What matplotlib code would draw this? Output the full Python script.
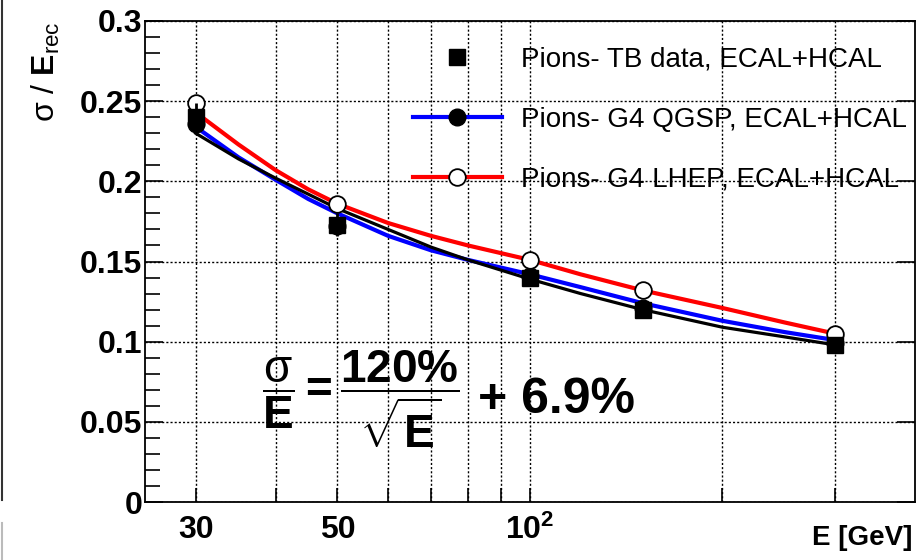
import matplotlib.pyplot as plt
from matplotlib.lines import Line2D
from matplotlib.ticker import FixedLocator, NullFormatter

plt.rcParams['font.family'] = 'Liberation Sans'
plt.rcParams['mathtext.fontset'] = 'custom'
plt.rcParams['mathtext.rm'] = 'Liberation Sans'
plt.rcParams['mathtext.bf'] = 'Liberation Sans:bold'
plt.rcParams['mathtext.it'] = 'Liberation Sans:italic'

# Beam energies (GeV)
energy = [30, 50, 100, 150, 300]

# Measured / simulated resolution at each energy
tb_data = [0.240, 0.173, 0.140, 0.120, 0.098]
tb_err = [0.009, 0.007, 0.005, 0.005, 0.005]
qgsp = [0.236, 0.172, 0.141, 0.121, 0.099]
lhep = [0.249, 0.186, 0.151, 0.132, 0.105]

# Fitted curves
curve_e = [30, 35, 40, 45, 50, 60, 70, 80, 100, 120, 150, 200, 250, 300]
fit_tb = [0.230, 0.214, 0.202, 0.192, 0.183, 0.170, 0.159, 0.151, 0.139, 0.130, 0.120, 0.109, 0.103, 0.098]
fit_qgsp = [0.234, 0.215, 0.201, 0.189, 0.180, 0.166, 0.157, 0.151, 0.142, 0.134, 0.124, 0.113, 0.106, 0.101]
fit_lhep = [0.243, 0.223, 0.207, 0.195, 0.186, 0.174, 0.166, 0.160, 0.151, 0.142, 0.132, 0.121, 0.112, 0.105]

fig = plt.figure(figsize=(9.21, 5.60), dpi=100)
ax = fig.add_axes([145 / 921, 58 / 560, 770 / 921, 481 / 560])

ax.plot(curve_e, fit_qgsp, color='#0000ff', lw=3, zorder=3)
ax.plot(curve_e, fit_lhep, color='#ff0000', lw=3, zorder=3)
ax.plot(curve_e, fit_tb, color='black', lw=2.3, zorder=4)

ax.plot(energy, qgsp, 'o', color='black', ms=12, zorder=5)
ax.plot(energy, lhep, 'o', mfc='white', mec='black', mew=1.3, ms=12, zorder=6)
ax.errorbar(energy, tb_data, yerr=tb_err, fmt='s', color='black', ms=12,
            elinewidth=2, capsize=0, zorder=7)

ax.set_xscale('log')
ax.set_xlim(25, 400)
ax.set_ylim(0, 0.3)

ax.xaxis.set_major_locator(FixedLocator([30, 50, 100]))
ax.xaxis.set_minor_locator(FixedLocator([40, 60, 70, 80, 90, 200, 300]))
ax.set_xticklabels(['30', '50', r'$\mathbf{10^2}$'])
ax.xaxis.set_minor_formatter(NullFormatter())
ax.set_yticks([0, 0.05, 0.1, 0.15, 0.2, 0.25, 0.3])
ax.set_yticklabels(['0', '0.05', '0.1', '0.15', '0.2', '0.25', '0.3'])
ax.set_yticks([i / 100 for i in range(31)], minor=True)

ax.tick_params(axis='both', which='both', direction='in', width=1.2, colors='black')
ax.tick_params(axis='y', which='major', length=13, labelsize=23, pad=2, right=True)
ax.tick_params(axis='y', which='minor', length=11)
ax.tick_params(axis='x', which='both', length=10, labelsize=23, pad=9)
for lab in ax.get_xticklabels() + ax.get_yticklabels():
    lab.set_fontweight('bold')

ax.grid(True, which='major', axis='y', color='black', ls=(0, (1.5, 1.5)), lw=1)
ax.grid(True, which='both', axis='x', color='black', ls=(0, (1.5, 1.5)), lw=1)
for s in ax.spines.values():
    s.set_linewidth(1.3)

# Legend
handles = [
    Line2D([], [], ls='none', marker='s', color='black', ms=12),
    Line2D([], [], color='#0000ff', lw=3, marker='o', mfc='black', mec='black', ms=12),
    Line2D([], [], color='#ff0000', lw=3, marker='o', mfc='white', mec='black', mew=1.3, ms=12),
]
labels = ['Pions- TB data, ECAL+HCAL', 'Pions- G4 QGSP, ECAL+HCAL', 'Pions- G4 LHEP, ECAL+HCAL']
ax.legend(handles, labels, loc='upper left', bbox_to_anchor=(413 / 921, 1 - 47 / 560),
          bbox_transform=fig.transFigure, frameon=False, fontsize=20, handlelength=3.2,
          handletextpad=0.7, labelspacing=1.22, borderpad=0, borderaxespad=0)

# Resolution formula
ax.text(0.152, 0.214,
        r'$\dfrac{\mathrm{\sigma}}{\mathbf{E}}\mathbf{=}\dfrac{\mathbf{120\%}}{\sqrt{\mathbf{E}}}$',
        transform=ax.transAxes, fontsize=33, ha='left', va='center')
ax.text(0.432, 0.212, '+ 6.9%', transform=ax.transAxes, fontsize=36,
        fontweight='bold', ha='left', va='center')

# Axis titles
fig.text(912 / 921, 1 - 538 / 560, 'E [GeV]', ha='right', va='center',
         fontsize=20, fontweight='bold')
fig.text(46 / 921, 1 - 72 / 560, r'$\mathrm{\sigma}$ / $\mathbf{E}_{\mathrm{rec}}$', rotation=90,
         ha='center', va='center', fontsize=23)

# Border left over from the page
fig.add_artist(Line2D([2 / 921, 2 / 921], [1, 1 - 500 / 560], color='#333333', lw=1.5))
fig.add_artist(Line2D([2 / 921, 2 / 921], [1 - 523 / 560, 0], color='#bbbbbb', lw=1.5))

fig.savefig('out.png', dpi=100)
